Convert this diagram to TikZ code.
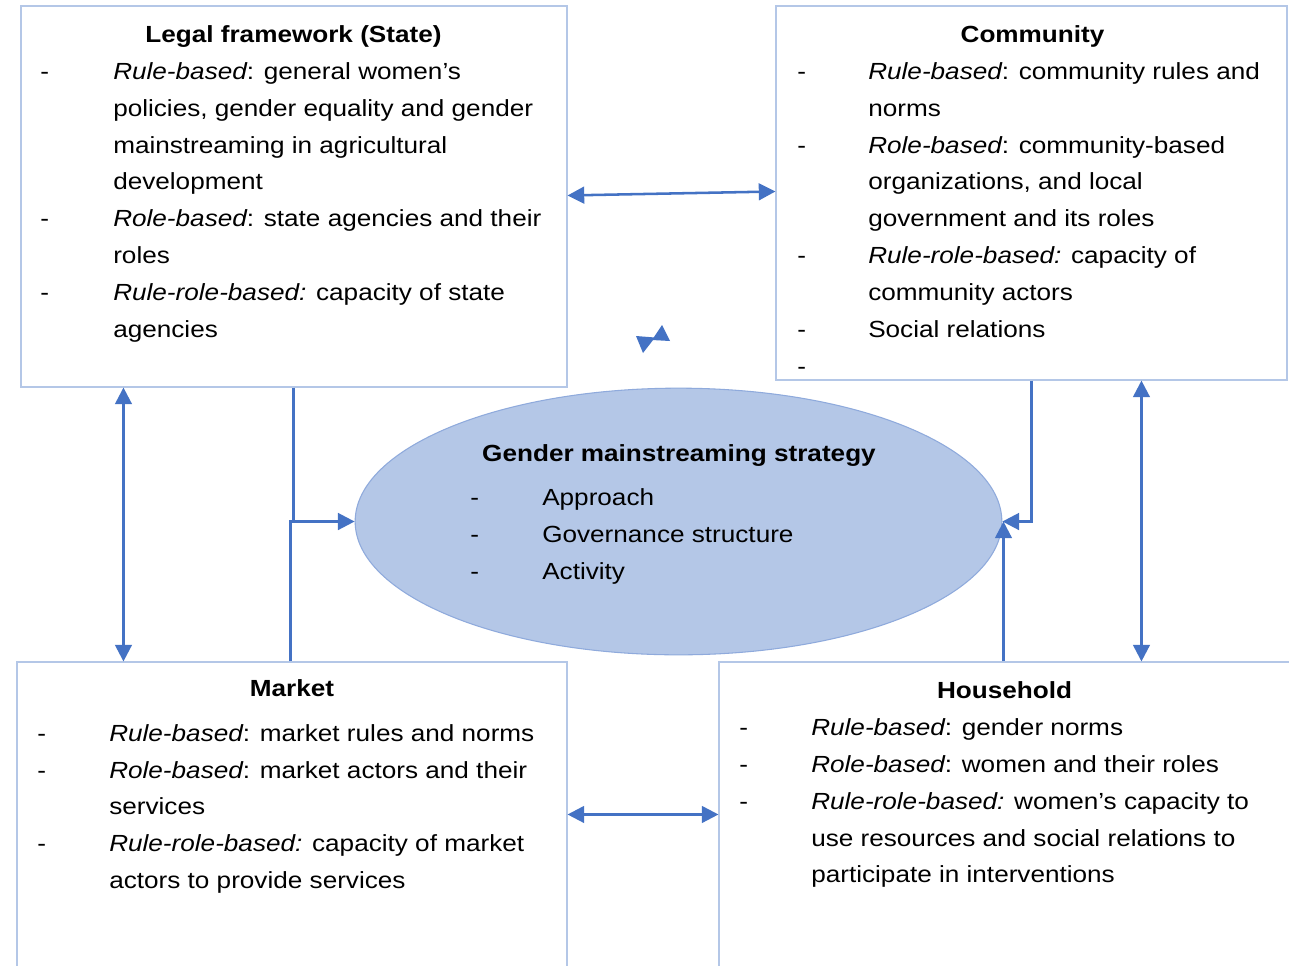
\documentclass[tikz,border=0pt]{standalone}
\usepackage{fontspec}
\setmainfont[FakeStretch=1.12]{Liberation Sans}
\usetikzlibrary{arrows.meta,fit,calc,shapes.geometric}
\definecolor{arrowblue}{RGB}{68,114,196}
\definecolor{boxline}{RGB}{180,199,231}
\definecolor{ellfill}{RGB}{180,199,231}
\definecolor{ellline}{RGB}{143,170,220}
\newcommand\dashline[5]{%
  \node[txt] (#1d) at (#2,#4) {-};
  \node[txt] (#1) at (#3,#4) {#5};}
\newcommand\contline[4]{%
  \node[txt] (#1) at (#2,#3) {#4};}
\newcommand\ital[1]{{\itshape #1}}
\begin{document}
\begin{tikzpicture}[x=0.75pt,y=-0.75pt,
  box/.style={draw=boxline,line width=0.8pt,inner sep=0pt},
  txt/.style={anchor=base west,inner sep=0pt,font=\fontsize{17.5pt}{21pt}\selectfont},
  ttl/.style={anchor=base,inner sep=0pt,font=\fontsize{17.5pt}{21pt}\selectfont\bfseries},
  conn/.style={draw=arrowblue,line width=1.9pt},
  arr/.style={conn,-{Triangle[length=12.5pt,width=12.5pt]}},
  dbl/.style={conn,{Triangle[length=12.5pt,width=12.5pt]}-{Triangle[length=12.5pt,width=12.5pt]}}]
\clip (0,0) rectangle (1289,965);
\fill[white] (0,0) rectangle (1289,965);
% boxes
\node[box,fit={(21,6)(567,387)}] (legal) {};
\node[box,fit={(776,6)(1287,380)}] (comm) {};
\node[box,fit={(17,662)(567,1000)}] (market) {};
\node[box,fit={(719,662)(1310,1000)}] (house) {};
\node[ellipse,draw=ellline,fill=ellfill,line width=0.8pt,inner sep=0pt,
  minimum width=485pt,minimum height=200pt] (gms) at (678.5,521.5) {};
% Legal framework
\node[ttl] (L0) at (293.5,42) {Legal framework (State)};
\dashline{L1}{40}{113}{79}{\ital{Rule-based}: general women’s}
\contline{L2}{113}{116}{policies, gender equality and gender}
\contline{L3}{113}{153}{mainstreaming in agricultural}
\contline{L4}{113}{189}{development}
\dashline{L5}{40}{113}{226}{\ital{Role-based}: state agencies and their}
\contline{L6}{113}{263}{roles}
\dashline{L7}{40}{113}{300}{\ital{Rule-role-based:} capacity of state}
\contline{L8}{113}{337}{agencies}
% Community
\node[ttl] (C0) at (1032.5,42) {Community};
\dashline{C1}{797}{868}{79}{\ital{Rule-based}: community rules and}
\contline{C2}{868}{116}{norms}
\dashline{C3}{797}{868}{153}{\ital{Role-based}: community-based}
\contline{C4}{868}{189}{organizations, and local}
\contline{C5}{868}{226}{government and its roles}
\dashline{C6}{797}{868}{263}{\ital{Rule-role-based:} capacity of}
\contline{C7}{868}{300}{community actors}
\dashline{C8}{797}{868}{337}{Social relations}
\node[txt] (C9) at (797,374) {-};
% Ellipse
\node[ttl] (E0) at (679,461) {Gender mainstreaming strategy};
\dashline{E1}{470}{542}{505}{Approach}
\dashline{E2}{470}{542}{542}{Governance structure}
\dashline{E3}{470}{542}{579}{Activity}
% Market
\node[ttl] (M0) at (292,696) {Market};
\dashline{M1}{37}{109}{741}{\ital{Rule-based}: market rules and norms}
\dashline{M2}{37}{109}{778}{\ital{Role-based}: market actors and their}
\contline{M3}{109}{814}{services}
\dashline{M4}{37}{109}{851}{\ital{Rule-role-based:} capacity of market}
\contline{M5}{109}{888}{actors to provide services}
% Household
\node[ttl] (H0) at (1004.5,698) {Household};
\dashline{H1}{739}{811}{735}{\ital{Rule-based}: gender norms}
\dashline{H2}{739}{811}{772}{\ital{Role-based}: women and their roles}
\dashline{H3}{739}{811}{809}{\ital{Rule-role-based:} women’s capacity to}
\contline{H4}{811}{846}{use resources and social relations to}
\contline{H5}{811}{882}{participate in interventions}
% connectors
\draw[dbl] ($(legal.north east)+(0,190)$) -- ($(comm.north west)+(0,186)$);
\draw[dbl] ($(legal.south west)+(103,0)$) -- ($(market.north west)+(107,0)$);
\draw[dbl] ($(comm.south west)+(366,0)$) -- ($(house.north west)+(423,0)$);
\draw[dbl] ($(market.north east)+(0,153)$) -- ($(house.north west)+(0,153)$);
\draw[arr] ($(legal.south west)+(273,0)$) |- (gms.west);
\draw[conn] ($(market.north west)+(274,0)$) |- ($(gms.west)+(-60,0)$);
\draw[arr] ($(comm.south west)+(256,0)$) |- (gms.east);
\coordinate (htop) at ($(house.north west)+(285,0)$);
\draw[arr] (htop) -- (htop |- gms.east);
% stray arrowheads
\fill[arrowblue] (636,336) -- (655,337.5) -- (643,353) -- cycle;
\fill[arrowblue] (652,340) -- (662,325) -- (670,341) -- cycle;
\end{tikzpicture}
\end{document}
